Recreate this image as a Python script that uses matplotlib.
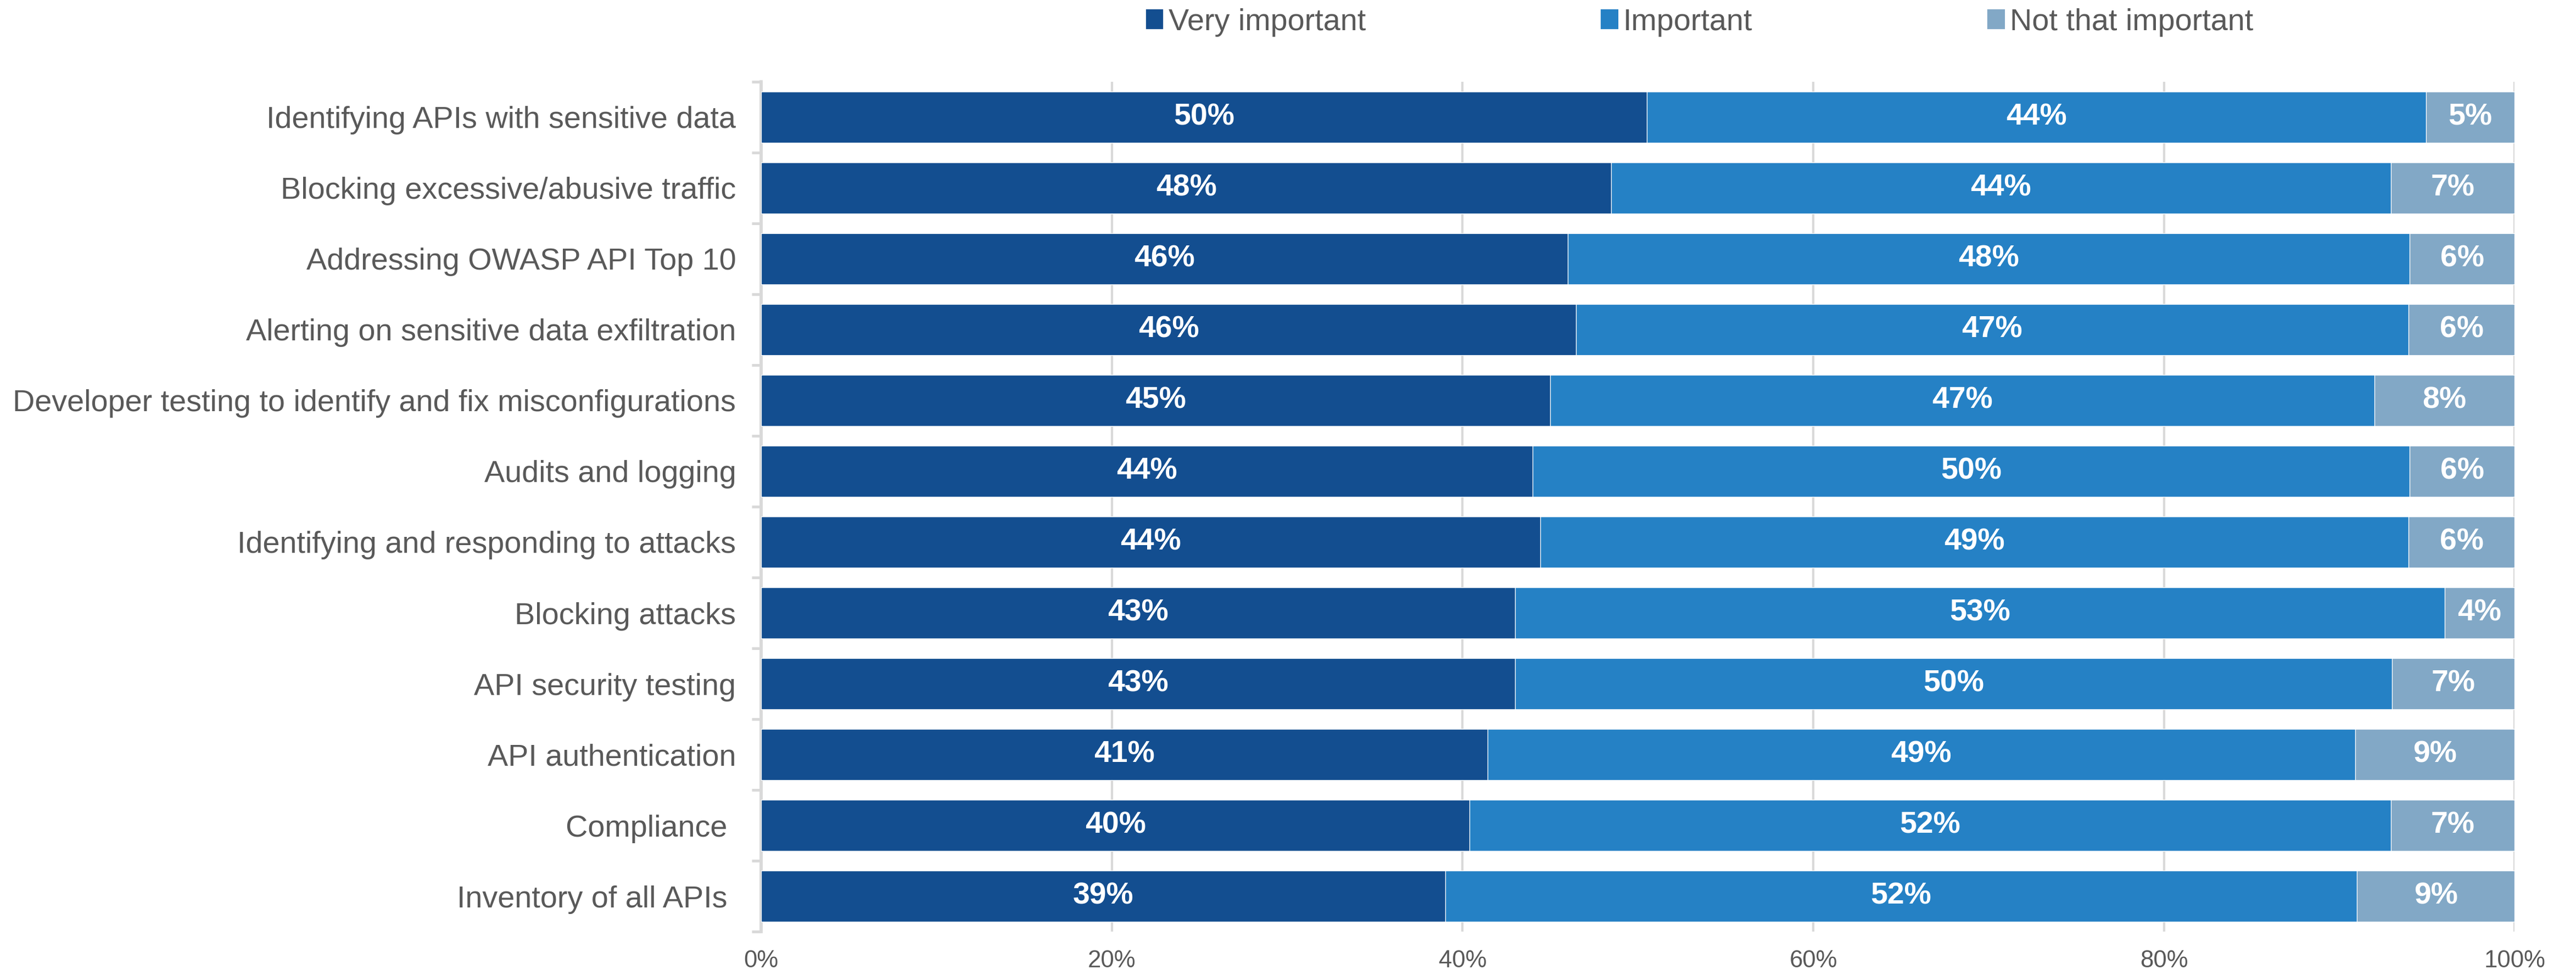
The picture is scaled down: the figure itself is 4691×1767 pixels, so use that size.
import matplotlib.pyplot as plt
import matplotlib.patches as patches
import numpy as np

plt.rcParams['font.family'] = ['Liberation Sans', 'DejaVu Sans']

# Data, top row first
categories = [
    'Identifying APIs with sensitive data',
    'Blocking excessive/abusive traffic',
    'Addressing OWASP API Top 10',
    'Alerting on sensitive data exfiltration',
    'Developer testing to identify and fix misconfigurations',
    'Audits and logging',
    'Identifying and responding to attacks',
    'Blocking attacks',
    'API security testing',
    'API authentication',
    'Compliance ',
    'Inventory of all APIs ',
]
very_important = [50, 48, 46, 46, 45, 44, 44, 43, 43, 41, 40, 39]
important = [44, 44, 48, 47, 47, 50, 49, 53, 50, 49, 52, 52]
not_important = [5, 7, 6, 6, 8, 6, 6, 4, 7, 9, 7, 9]
series_names = ['Very important', 'Important', 'Not that important']
x_ticks = [0, 20, 40, 60, 80, 100]

colors = ['#134E90', '#2581C5', '#82A8C6']
grey_text = '#595959'
grid_grey = '#D9D9D9'

fig = plt.figure(figsize=(4691 / 300, 1767 / 300), dpi=300)
ax = fig.add_axes([0.2955, 0.0396, 0.9762 - 0.2955, 0.9157 - 0.0396])

series = np.array([very_important, important, not_important], dtype=float)
totals = series.sum(axis=0)
shares = series / totals * 100  # 100% stacked
y = np.arange(len(categories))

left = np.zeros(len(categories))
for k in range(3):
    ax.barh(y, shares[k], left=left, height=0.72, color=colors[k],
            edgecolor='white', linewidth=0.3, zorder=3, label=series_names[k])
    for i in range(len(categories)):
        ax.text(left[i] + shares[k][i] / 2, y[i], f'{int(series[k][i])}%',
                ha='center', va='center', color='white', fontsize=13.3,
                fontweight='bold', zorder=4)
    left += shares[k]

ax.set_xlim(0, 100)
ax.set_ylim(len(categories) - 0.5, -0.5)
ax.set_yticks(y)
ax.set_yticklabels(categories, fontsize=13.4, color=grey_text)
ax.set_yticks(np.arange(len(categories) + 1) - 0.5, minor=True)
ax.tick_params(axis='y', which='major', length=0, pad=11)
ax.tick_params(axis='y', which='minor', length=4, width=1.2, color=grid_grey)

ax.set_xticks(x_ticks)
ax.set_xticklabels([f'{t}%' for t in x_ticks], fontsize=10.5, color=grey_text)
ax.tick_params(axis='x', length=0, pad=8)
ax.grid(axis='x', color=grid_grey, linewidth=1.0, zorder=0)

for side in ['top', 'right', 'bottom']:
    ax.spines[side].set_visible(False)
ax.spines['left'].set_color(grid_grey)
ax.spines['left'].set_linewidth(1.4)

handles = [patches.Patch(color=c) for c in colors]
fig.legend(handles, series_names, loc='center', bbox_to_anchor=(0.66, 0.977),
           ncol=3, frameon=False, fontsize=13.4, labelcolor=grey_text,
           handlelength=0.5, handleheight=0.5, handletextpad=0.2,
           columnspacing=7.7, borderpad=0)

fig.savefig('out.png', dpi=300, facecolor='white')
